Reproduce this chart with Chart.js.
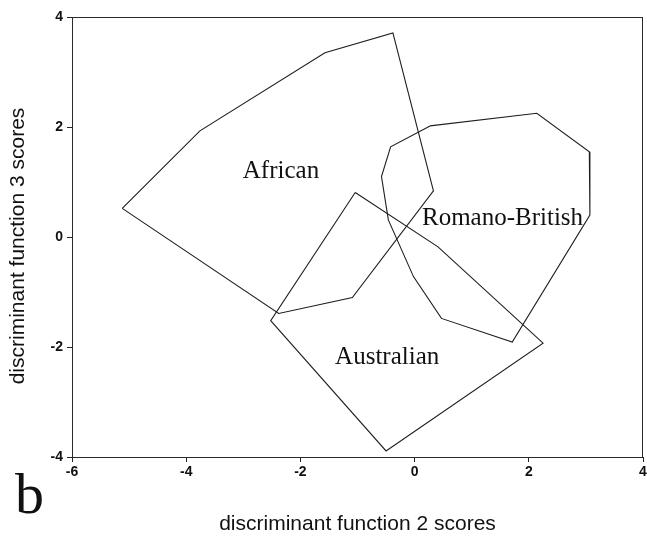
<!DOCTYPE html>
<html>
<head>
<meta charset="utf-8">
<script src="https://cdn.jsdelivr.net/npm/chart.js@4/dist/chart.umd.min.js"></script>
<style>
  html, body { margin: 0; padding: 0; background: #fff; }
  #wrap { width: 647px; height: 538px; }
</style>
</head>
<body>
<div id="wrap"><canvas id="c" width="647" height="538"></canvas></div>
<script>
// Group hulls on discriminant functions 2 (x) and 3 (y)
const africanX = [-5.12, -3.76, -1.57, -0.38, 0.33, -1.09, -2.38];
const africanY = [0.52, 1.93, 3.35, 3.71, 0.84, -1.10, -1.39];

const australianX = [-1.04, 0.41, 2.25, -0.50, -2.52];
const australianY = [0.81, -0.18, -1.93, -3.89, -1.52];

const romanoX = [0.27, 2.14, 3.06, 3.07, 1.71, 0.47, -0.02, -0.46, -0.58, -0.42];
const romanoY = [2.02, 2.25, 1.55, 0.40, -1.91, -1.48, -0.72, 0.31, 1.10, 1.64];

const xTicks = [-6, -4, -2, 0, 2, 4];
const yTicks = [-4, -2, 0, 2, 4];

// Group names and where they sit (data units, text baseline)
const groupNames = ['African', 'Romano-British', 'Australian'];
const groupNameX = [-2.34, 1.54, -0.48];
const groupNameY = [1.07, 0.22, -2.31];

const xTitle = 'discriminant function 2 scores';
const yTitle = 'discriminant function 3 scores';
const panelLetter = 'b';

function closedRing(xs, ys) {
  const pts = xs.map((x, i) => ({ x: x, y: ys[i] }));
  pts.push({ x: xs[0], y: ys[0] });
  return pts;
}

const lineColor = '#1e1e1e';

const hull = (label, xs, ys) => ({
  label: label,
  data: closedRing(xs, ys),
  showLine: true,
  borderColor: lineColor,
  borderWidth: 1.1,
  pointRadius: 0,
  fill: false,
  tension: 0
});

const decorations = {
  id: 'decorations',
  afterDatasetsDraw(chart) {
    const ctx = chart.ctx;
    const a = chart.chartArea;
    const xs = chart.scales.x, ys = chart.scales.y;
    ctx.save();
    // frame
    ctx.strokeStyle = '#2a2a2a';
    ctx.lineWidth = 1;
    ctx.strokeRect(a.left + 0.5, a.top + 0.5, a.right - a.left - 1, a.bottom - a.top);

    // group names
    ctx.fillStyle = '#111';
    ctx.font = '25px "Liberation Serif", "Times New Roman", serif';
    ctx.textAlign = 'center';
    ctx.textBaseline = 'alphabetic';
    groupNames.forEach((n, i) => {
      ctx.fillText(n, xs.getPixelForValue(groupNameX[i]), ys.getPixelForValue(groupNameY[i]));
    });

    // axis titles
    ctx.font = '21px "Liberation Sans", Arial, sans-serif';
    ctx.textBaseline = 'middle';
    ctx.fillText(xTitle, (a.left + a.right) / 2, 524);
    ctx.save();
    ctx.translate(18, 246);
    ctx.rotate(-Math.PI / 2);
    ctx.fillText(yTitle, 0, 0);
    ctx.restore();

    // panel letter
    ctx.font = '58px "Liberation Serif", "Times New Roman", serif';
    ctx.textAlign = 'left';
    ctx.textBaseline = 'alphabetic';
    ctx.fillText(panelLetter, 15, 513);
    ctx.restore();
  }
};

new Chart(document.getElementById('c'), {
  type: 'scatter',
  data: {
    datasets: [
      hull('African', africanX, africanY),
      hull('Australian', australianX, australianY),
      hull('Romano-British', romanoX, romanoY)
    ]
  },
  options: {
    responsive: false,
    animation: false,
    layout: { padding: { left: 0, right: 4, top: 17, bottom: 0 } },
    plugins: { legend: { display: false }, tooltip: { enabled: false } },
    scales: {
      x: {
        type: 'linear',
        min: -6, max: 4,
        afterBuildTicks(s) { s.ticks = xTicks.map(v => ({ value: v })); },
        afterFit(s) { s.height = 81; s.paddingLeft = 0; s.paddingRight = 0; },
        border: { display: false },
        grid: { drawOnChartArea: false, drawTicks: true, tickLength: 5, color: '#222' },
        ticks: {
          padding: 2,
          color: '#111',
          font: { family: '"Liberation Sans", Arial, sans-serif', size: 14, weight: 'bold' },
          maxRotation: 0
        }
      },
      y: {
        type: 'linear',
        min: -4, max: 4,
        afterBuildTicks(s) { s.ticks = yTicks.map(v => ({ value: v })); },
        afterFit(s) { s.width = 72; s.paddingTop = 0; s.paddingBottom = 0; },
        border: { display: false },
        grid: { drawOnChartArea: false, drawTicks: true, tickLength: 5, color: '#222' },
        ticks: {
          padding: 4,
          color: '#111',
          font: { family: '"Liberation Sans", Arial, sans-serif', size: 14, weight: 'bold' }
        }
      }
    }
  },
  plugins: [decorations]
});
</script>
</body>
</html>
